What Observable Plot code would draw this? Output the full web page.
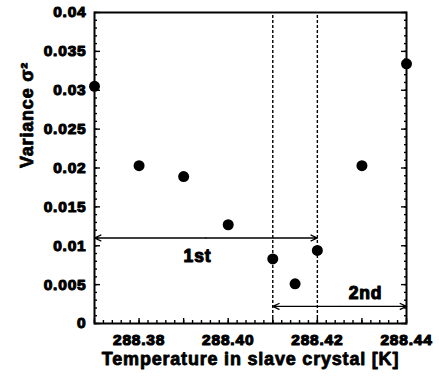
<!DOCTYPE html>
<html>
<head>
<meta charset="utf-8">
<script src="https://cdn.jsdelivr.net/npm/d3@7"></script>
<script src="https://cdn.jsdelivr.net/npm/@observablehq/plot@0.6"></script>
<style>
  html, body { margin: 0; padding: 0; background: #fff; }
  svg text { letter-spacing: 0.8px; font-weight: bold; }
</style>
</head>
<body>
<div id="chart"></div>
<script>
// Data
const temperatures = [288.37, 288.38, 288.39, 288.40, 288.41, 288.415, 288.42, 288.43, 288.44];
const variances    = [0.0305, 0.0203, 0.0189, 0.0127, 0.0083, 0.0051, 0.0094, 0.0203, 0.0334];

const dashedAt = [288.41, 288.42];

const rangeLabels = ["1st", "2nd"];
const rangeStart  = [288.37, 288.41];
const rangeEnd    = [288.42, 288.44];
const rangeY      = [0.011, 0.0022];
const labelX      = [288.3931, 288.4308];
const labelY      = [0.0086, 0.0039];

const xTickLabels = [288.38, 288.40, 288.42, 288.44];
const yTickLabels = [0, 0.005, 0.01, 0.015, 0.02, 0.025, 0.03, 0.035, 0.04];

const xDomain = [288.37, 288.44];
const yDomain = [0, 0.04];

// derived tables
const points = temperatures.map((t, i) => ({t, v: variances[i]}));
const xMajor = d3.range(0, 8).map(i => 288.37 + i * 0.01);
const xMinor = d3.range(0, 36).map(i => 288.37 + i * 0.002);
const yMajor = yTickLabels;
const yMinor = d3.range(0, 41).map(i => i / 1000);
const arrowHalves = [];
rangeLabels.forEach((l, i) => {
  const mid = (rangeStart[i] + rangeEnd[i]) / 2;
  arrowHalves.push({x1: mid, x2: rangeStart[i], y: rangeY[i]});
  arrowHalves.push({x1: mid, x2: rangeEnd[i], y: rangeY[i]});
});
const labels = rangeLabels.map((l, i) => ({l, x: labelX[i], y: labelY[i]}));

const font = "'Liberation Sans', Arial, Helvetica, sans-serif";
const heavy = {fontWeight: "bold", fill: "black", stroke: "black", strokeWidth: 1.1, strokeLinejoin: "round"};

const chart = Plot.plot({
  width: 439,
  height: 377,
  marginLeft: 94,
  marginRight: 33,
  marginTop: 12,
  marginBottom: 54,
  style: {fontFamily: font, fontWeight: "bold", color: "black", background: "white", overflow: "visible"},
  x: {domain: xDomain},
  y: {domain: yDomain},
  marks: [
    // minor & major ticks (inward)
    Plot.axisX({ticks: xMinor, tickSize: -3, text: null, label: null, strokeWidth: 1.4}),
    Plot.axisX({ticks: xMajor, tickSize: -5, text: null, label: null, strokeWidth: 1.4}),
    Plot.axisY({ticks: yMinor, tickSize: -3, text: null, label: null, strokeWidth: 1.4}),
    Plot.axisY({ticks: yMajor, tickSize: -6, text: null, label: null, strokeWidth: 1.4}),
    Plot.axisY({anchor: "right", ticks: yMinor, tickSize: -3, text: null, label: null, strokeWidth: 1.4}),
    Plot.axisY({anchor: "right", ticks: yMajor, tickSize: -6, text: null, label: null, strokeWidth: 1.4}),
    // tick labels
    Plot.text(xTickLabels, {x: d => d, frameAnchor: "bottom", dy: 17, text: d => d3.format(".2f")(d),
              fontSize: 15.5, ...heavy, lineAnchor: "middle"}),
    Plot.text(yTickLabels, {y: d => d, frameAnchor: "left", dx: -8, text: d => String(d),
              textAnchor: "end", fontSize: 15.5, ...heavy, lineAnchor: "middle"}),
    Plot.frame({stroke: "black", strokeWidth: 2}),
    Plot.ruleX(dashedAt, {y1: yDomain[0], y2: yDomain[1], stroke: "black",
                          strokeWidth: 1.4, strokeDasharray: "3,2"}),
    Plot.arrow(arrowHalves, {x1: "x1", x2: "x2", y1: "y", y2: "y", stroke: "black",
                             strokeWidth: 1.3, headAngle: 50, headLength: 8}),
    Plot.text(labels, {x: "x", y: "y", text: "l", fontSize: 17.5, ...heavy}),
    Plot.dot(points, {x: "t", y: "v", r: 5.5, fill: "black", stroke: null}),
    Plot.text(["Temperature in slave crystal [K]"], {frameAnchor: "bottom", dy: 36,
              fontSize: 18, ...heavy, strokeWidth: 0.8, lineAnchor: "middle"}),
    Plot.text(["Variance σ²"], {frameAnchor: "left", dx: -67, rotate: -90,
              fontSize: 18, ...heavy, strokeWidth: 0.8, lineAnchor: "middle"})
  ]
});
document.getElementById("chart").appendChild(chart);
</script>
</body>
</html>
